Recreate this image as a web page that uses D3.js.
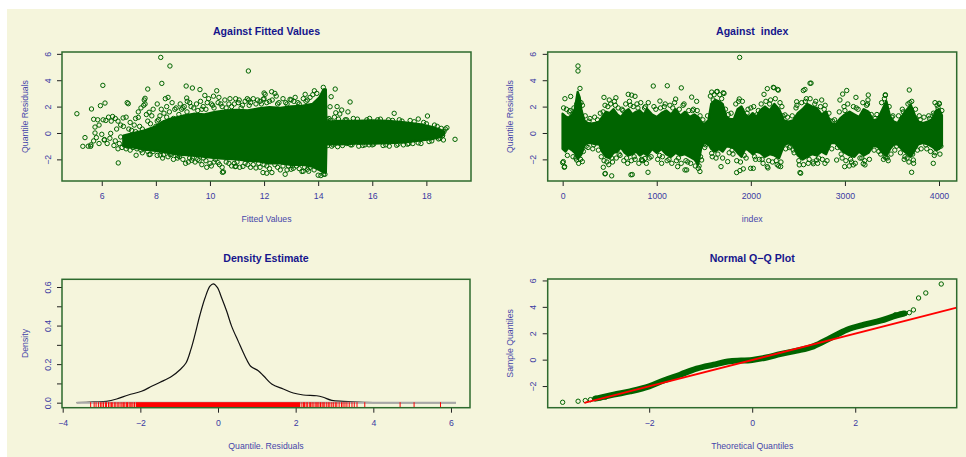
<!DOCTYPE html>
<html>
<head>
<meta charset="utf-8">
<script src="https://cdn.jsdelivr.net/npm/d3@7"></script>
<style>
body { margin: 0; background: #fff; }
svg { display: block; font-family: "Liberation Sans", Arial, sans-serif; }
text { white-space: pre; }
</style>
</head>
<body>
<svg id="chart" width="966" height="457"></svg>
<script>
// -- data -- //
// dense core of "against fitted": [fitted, low, high]
const fittedCore = [
  [6.8,-1.0,-0.2],[7.2,-1.1,0.0],[7.6,-1.25,0.2],[8.0,-1.35,0.5],[8.3,-1.45,0.9],[8.6,-1.55,1.1],
  [9.0,-1.65,1.3],[9.4,-1.7,1.45],[9.8,-1.8,1.4],[10.2,-1.9,1.6],[10.6,-1.95,1.7],[11.0,-2.0,1.75],
  [11.4,-2.1,1.7],[11.8,-2.15,1.85],[12.2,-2.3,1.95],[12.6,-2.3,1.9],[13.0,-2.4,2.0],[13.4,-2.4,2.05],
  [13.8,-2.55,2.2],[14.05,-2.8,2.7],[14.2,-3.0,3.3],[14.28,-3.0,3.3],[14.3,-0.85,0.85],[14.8,-0.85,0.9],
  [15.4,-0.8,0.9],[16.0,-0.8,0.95],[16.6,-0.75,0.9],[17.2,-0.7,0.8],[17.8,-0.55,0.65],
  [18.2,-0.45,0.45],[18.5,-0.3,0.25],[18.65,-0.12,0.08]
];
// scattered residuals around the core: [fitted, residual]
const fittedPoints = [
  [5.08,1.46],[8.18,5.73],[8.52,5.08],[11.42,4.70],[6.04,3.61],[6.12,2.27],[5.95,2.07],[5.62,1.82],
  [5.70,1.04],[5.75,0.45],[5.38,-0.35],[5.30,-1.01],[5.59,-1.01],[6.61,-2.27],[7.27,-1.69],[6.94,2.30],
  [6.98,2.22],[8.22,3.76],[7.70,3.33],[9.12,3.56],[9.35,3.41],[9.63,3.29],[10.50,-2.95],[10.96,-2.53],
  [11.22,-2.53],[11.96,-3.0],[7.60,2.63],[7.57,2.50],[7.35,1.18],[7.75,1.57],[6.79,1.14],[6.33,-0.03],
  [6.09,-0.53],[7.23,-0.86],[7.79,-1.62],[8.59,-1.6],[8.28,-1.65],[8.87,-1.79],[9.14,2.65],[9.16,2.4],
  [10.33,2.7],[10.74,2.6],[11.08,2.5],[11.76,2.5],[12.0,3.03],[12.04,2.93],[9.88,-2.6],[11.7,-2.65],
  [14.19,3.46],[14.63,3.33],[14.48,2.75],[14.44,1.99],[15.18,2.35],[13.86,3.2],[13.52,2.93],[12.96,2.55],
  [12.28,3.13],[12.4,3.0],[16.81,1.49],[18.04,1.29],[17.70,1.06],[18.76,0.4],[19.06,-0.48],[18.63,-0.53],
  [14.87,1.74],[14.8,1.44],[14.65,1.53],[14.72,-1.04],[15.06,-0.8],[15.73,-0.9],[15.88,-0.9],[16.63,-1.0],
  [16.9,-0.93],[17.15,-0.9],[17.5,-0.8],[14.1,-3.23],[14.25,-3.13],[12.78,-3.13],[12.1,-3.05],[13.45,-2.9],
  [13.6,-2.75],[14.0,-2.63],[13.0,-2.75],[10.25,3.2],[9.81,2.85],[10.13,2.79],[11.38,2.6],[11.43,2.5],
  [11.97,2.56],[12.29,-3.0],[13.08,-2.68],[13.4,-2.92],[14.0,-3.2],[14.2,-3.13],[10.46,-2.98],[10.93,-2.55],
  [7.75,-1.64],[8.16,-1.67],[8.53,-1.64],[8.9,-1.6],[9.33,-2.07],[9.36,-1.9],[9.76,-1.9],[10.0,-2.3],
  [10.3,-2.25],[6.0,-0.1],[6.1,-0.5],[6.2,-0.8],[6.3,-0.4],[6.35,0.9],[6.5,-0.6],[6.6,-1.2],[6.7,-0.3],
  [6.8,0.5],[6.85,-0.9],[6.9,1.2],[7.0,-0.7],[7.1,0.2],[7.15,-1.1],[7.2,0.6],[7.3,-0.5],[7.35,1.6],
  [7.4,-0.9],[7.5,0.3],[7.55,2.1],[7.6,-1.2],[7.7,0.9],[7.8,-0.4],[7.85,1.3],[7.9,-1.4],[8.0,0.5],
  [5.6,-0.9],[5.7,-0.6],[5.75,0.0],[5.8,-0.35],[5.9,0.6],[5.5,-1.0],[5.9,-0.8],[5.85,1.0],[6.05,1.0],
  [6.15,0.95],[6.25,1.2],[6.4,1.25],[6.55,0.3],[6.45,-0.95],[6.65,-0.8],[6.75,-1.1],[6.95,-1.0],
  [7.05,-0.3],[7.25,0.1],[7.45,-1.3],[7.65,-0.9],[7.95,-0.8],[8.1,1.0],[8.3,1.5],[8.4,2.0],[8.6,2.3],
  [8.7,1.8],[8.45,2.7],[8.35,2.6],[8.9,2.2],[9.0,1.9],[9.3,2.0],[9.5,2.2],[9.7,1.8],[9.9,2.3],[10.1,2.1],
  [10.4,2.2],[10.6,1.9],[10.9,2.2],[11.2,2.1],[11.5,2.3],[11.9,2.2],[12.2,2.4],[12.5,2.2],[12.8,2.3],
  [13.1,2.4],[13.3,2.2],[13.6,2.5],[8.2,-1.4],[8.8,-1.9],[9.2,-2.2],[9.6,-2.1],[10.2,-2.0],[10.7,-2.3],
  [11.0,-2.2],[11.4,-2.4],[11.8,-2.3],[12.1,-2.5],[12.5,-2.6],[12.9,-2.5],[13.2,-2.5],[13.7,-2.6],
  [14.4,1.1],[14.5,-1.0],[15.0,1.0],[15.3,1.1],[15.5,-1.0],[15.9,1.1],[16.2,1.0],[16.4,-0.95],[16.6,1.0],
  [17.0,1.0],[17.3,-0.85],[17.4,0.95],[17.8,-0.8],[17.9,0.8],[18.2,-0.6],[18.3,0.6],[18.5,-0.4],
  [18.55,0.35],[18.7,0.3],[18.6,-0.2],[15.2,-0.9],[16.0,-0.9],[14.35,-0.95],[14.6,1.2],[14.7,2.0],[15.1,1.6],
  [8.05,0.9],[8.15,1.3],[8.25,0.7],[8.4,1.2],[8.5,1.6],[8.65,1.1],[8.75,1.9],[8.85,1.4],[8.95,1.8],
  [9.05,2.0],[9.15,1.6],[9.25,2.3],[9.4,1.9],[9.55,1.7],[9.65,2.4],[9.75,2.0],[9.85,1.8],[9.95,2.6],
  [10.05,2.2],[10.15,1.9],[10.3,2.3],[10.45,2.0],[10.55,2.5],[10.7,2.2],[10.8,2.0],[10.95,2.6],[11.05,2.3],
  [11.15,1.9],[11.3,2.4],[11.45,2.1],[11.6,2.6],[11.7,2.2],[11.85,2.4],[12.0,2.6],[12.1,2.3],[12.3,2.5],
  [12.45,2.8],[12.55,2.3],[12.7,2.6],[12.85,2.2],[13.0,2.5],[13.15,2.7],[13.25,2.3],[13.45,2.6],[13.55,2.4],
  [13.7,2.7],[13.8,2.9],[13.95,3.0],[6.9,-1.2],[7.05,-1.3],[7.3,-1.2],[7.5,-1.5],[7.7,-1.4],[8.05,-1.7],
  [8.25,-1.9],[8.45,-1.8],[8.65,-2.0],[8.8,-1.7],[9.0,-2.0],[9.1,-2.3],[9.25,-1.9],[9.45,-2.2],[9.55,-2.0],
  [9.7,-2.4],[9.85,-2.1],[10.05,-2.5],[10.15,-2.2],[10.35,-2.4],[10.45,-2.6],[10.6,-2.2],[10.8,-2.5],
  [10.9,-2.3],[11.1,-2.6],[11.3,-2.3],[11.5,-2.6],[11.6,-2.4],[11.85,-2.6],[12.0,-2.4],[12.2,-2.7],
  [12.4,-2.4],[12.6,-2.8],[12.7,-2.5],[12.85,-2.8],[13.05,-2.5],[13.3,-2.7],[13.5,-2.6],[13.65,-2.9],
  [13.85,-2.8],[14.35,1.0],[14.45,0.95],[14.55,-0.9],[14.75,1.05],[14.9,-0.95],[15.05,1.0],[15.25,-0.9],
  [15.45,1.05],[15.65,-0.95],[15.8,1.0],[16.05,-0.85],[16.3,1.05],[16.5,-0.9],[16.75,0.95],[16.95,-0.85],
  [17.1,0.9],[17.35,-0.8],[17.55,0.85],[17.7,-0.75],[18.0,0.7],[18.1,-0.65],[18.4,0.5],[18.45,-0.45],
  [18.65,0.1],[7.05,0.8],[7.25,1.1],[7.4,0.5],[7.45,1.9],[7.65,1.4],[7.8,0.7],[7.9,1.8],[8.05,2.2],
  [8.2,1.8],[7.6,2.2],[7.0,0.3],[6.7,0.6],[6.6,0.9],[6.5,1.1]
];

// dense core of "against index": [index, low, high]
const indexCore = [
  [0,-1.2,1.45],[30,-1.4,1.25],[60,-1.1,1.15],[100,-1.3,1.4],[130,-1.5,1.8],[160,-1.95,3.1],[180,-1.8,2.7],
  [200,-1.6,1.7],[230,-0.95,0.95],[260,-0.75,0.75],[300,-0.75,0.7],[350,-0.85,0.75],[390,-0.85,0.85],
  [420,-1.4,1.2],[460,-1.8,1.6],[500,-1.9,1.5],[540,-1.5,1.8],[580,-1.4,1.4],[620,-1.1,1.2],[660,-1.5,1.6],
  [700,-1.7,1.8],[740,-1.6,1.4],[780,-1.4,1.6],[820,-1.7,1.7],[860,-1.5,1.4],[900,-1.7,1.8],[950,-1.2,1.4],
  [1000,-1.5,1.2],[1050,-1.2,1.5],[1100,-1.6,1.7],[1150,-1.8,1.4],[1200,-1.5,1.8],[1250,-1.7,1.3],
  [1300,-1.6,1.6],[1350,-1.8,1.2],[1400,-2.0,1.4],[1440,-2.4,1.2],[1470,-1.2,0.85],[1500,-0.75,0.65],
  [1550,-0.85,0.95],[1580,-1.2,2.2],[1620,-1.4,2.5],[1660,-1.2,2.4],[1700,-1.4,2.2],[1740,-1.0,1.2],
  [1780,-1.05,1.05],[1820,-1.15,1.05],[1860,-1.5,1.8],[1900,-1.8,2.0],[1940,-1.2,1.4],[1980,-1.3,1.2],
  [2020,-1.6,1.5],[2060,-1.4,1.2],[2100,-1.5,1.7],[2150,-1.8,2.0],[2200,-1.6,1.7],[2250,-1.7,2.2],
  [2300,-1.9,1.8],[2350,-0.95,0.95],[2400,-0.75,0.85],[2450,-0.95,0.95],[2500,-1.7,1.5],[2550,-2.0,1.8],
  [2600,-1.8,2.2],[2650,-1.6,2.0],[2700,-1.7,1.9],[2750,-1.4,1.4],[2800,-1.6,1.6],[2850,-0.75,0.75],
  [2900,-0.75,0.65],[2950,-1.2,1.1],[3000,-1.5,1.4],[3050,-1.7,1.6],[3100,-1.8,1.4],[3150,-1.4,1.2],
  [3200,-1.7,1.8],[3250,-1.5,1.6],[3300,-0.95,0.95],[3350,-1.05,1.05],[3400,-1.5,1.8],[3440,-1.7,2.4],
  [3480,-1.2,1.2],[3520,-0.85,0.85],[3560,-0.85,0.75],[3600,-1.2,1.2],[3650,-1.5,1.7],[3700,-1.8,2.1],
  [3740,-1.3,1.4],[3780,-0.85,0.85],[3830,-0.75,0.75],[3880,-0.85,0.85],[3930,-1.05,1.05],[3970,-1.3,1.7],
  [4000,-1.2,1.8],[4030,-0.95,1.35]
];
// scattered residuals: [index, residual]
const indexPoints = [
  [163,5.08],[163,4.7],[1881,5.73],[24,2.6],[85,2.77],[963,3.56],[1112,3.58],[1261,3.42],[439,2.7],
  [697,2.93],[769,2.78],[1584,3.1],[1643,3.15],[1707,3.05],[2175,3.36],[2239,3.46],[2285,3.30],[2558,3.22],
  [2640,3.78],[3019,3.22],[2947,2.5],[3684,3.26],[3245,2.5],[3429,2.85],[0,-2.25],[21,-2.55],[453,-3.07],
  [521,-3.25],[740,-3.15],[907,-2.98],[1459,-2.92],[1849,-3.0],[1884,-2.85],[2522,-3.0],[3709,-2.98],
  [3939,-2.3],[2997,-2.55],[3046,-2.5],[1318,-2.8],[1998,-2.68],[2182,-2.65],[2296,-2.5],[2664,-2.33],
  [3195,-2.33],[3426,-1.83],[3986,-1.1],[4003,2.2],[3957,2.3],[184,3.38],[209,-2.17],[149,-2.05],[7,-2.17],
  [17,-2.6],[495,2.5],[566,2.67],[733,2.87],[1034,2.42],[1201,2.57],[1371,2.72],[1424,2.4],[450,-3.1],
  [726,-3.17],[432,-2.6],[843,-2.05],[875,-1.93],[1052,-2.3],[1222,-2.55],[1300,-2.8],[1441,-2.68],
  [1477,-2.05],[1637,3.12],[1715,3.0],[1683,-2.55],[1877,2.58],[1903,1.74],[1920,-2.72],[1754,-2.17],
  [1584,-1.54],[2140,2.93],[2246,3.43],[2292,3.25],[2575,3.3],[2629,3.77],[2976,2.95],[3117,2.7],
  [3248,2.88],[4002,2.25],[3950,1.37],[2026,-2.68],[2175,-2.55],[2317,-2.55],[2530,-3.05],[2515,-2.42],
  [2788,-2.3],[3089,-2.42],[3213,-2.42],[3436,-1.85],[3638,-1.8],[3727,-2.05],[2062,1.37],[2363,1.37],
  [2487,2.37],[2753,2.5],[2841,0.92],[1991,-1.29],[2451,-1.29],[2700,-2.05],[2912,-2.05],
  [40,1.8],[70,1.6],[120,1.9],[140,-1.9],[190,-2.0],[210,2.1],[250,-1.0],[280,0.9],[330,-0.9],[370,1.0],
  [410,-1.8],[430,1.6],[470,-2.2],[480,2.0],[520,-1.9],[560,2.1],[600,-1.6],[640,1.7],[680,-1.9],[720,2.1],
  [760,-1.8],[800,1.9],[840,-2.0],[880,2.0],[920,-1.9],[990,1.8],[1030,-1.7],[1080,2.0],[1130,-2.0],
  [1170,1.9],[1230,-1.9],[1280,2.1],[1330,-2.2],[1380,1.7],[1450,-2.5],[1460,1.3],[1520,-0.9],[1600,2.5],
  [1650,-1.6],[1690,2.6],[1760,1.4],[1800,-1.3],[1840,2.2],[1890,-2.2],[1960,1.5],[2040,-1.8],[2080,1.7],
  [2120,-2.0],[2200,2.2],[2270,-2.1],[2330,2.0],[2420,-1.0],[2480,1.9],[2580,2.4],[2620,-2.0],[2680,2.2],
  [2720,-1.9],[2780,1.8],[2870,0.9],[2960,-1.6],[3000,1.7],[3060,-2.0],[3120,1.9],[3180,-1.9],[3230,2.1],
  [3320,1.1],[3380,-1.6],[3420,2.6],[3450,-1.9],[3500,1.2],[3550,-1.0],[3620,1.6],[3660,-1.9],[3690,2.3],
  [3720,-1.6],[3800,1.0],[3860,-0.9],[3900,1.1],[3960,-1.5],[3990,1.9],[4020,-1.0],
  [10,1.9],[50,-1.7],[80,1.7],[110,-1.8],[150,2.2],[170,-2.3],[195,2.3],[220,-1.4],[240,1.3],[270,-1.1],
  [290,1.1],[320,-1.2],[340,1.2],[380,-1.3],[400,1.5],[440,-2.1],[450,2.1],[490,-2.4],[510,2.2],[530,-2.2],
  [550,2.4],[570,-1.9],[590,1.9],[610,-1.7],[630,1.8],[650,-2.1],[670,2.2],[690,-2.3],[710,2.4],[730,-2.1],
  [750,2.0],[770,-2.0],[790,2.2],[810,-2.3],[830,2.3],[850,-2.1],[870,1.9],[890,-2.3],[910,2.3],[940,-1.8],
  [970,2.0],[1010,-2.0],[1040,1.9],[1060,-1.8],[1090,2.2],[1110,-2.1],[1140,2.1],[1160,-2.3],[1190,2.3],
  [1210,-2.1],[1240,1.8],[1260,-2.3],[1290,2.2],[1310,-2.1],[1340,1.7],[1360,-2.3],[1390,1.8],[1410,-2.5],
  [1430,1.7],[1465,-1.8],[1490,1.0],[1510,-1.1],[1540,1.3],[1570,2.8],[1590,-1.8],[1610,2.9],[1630,-1.9],
  [1670,2.9],[1700,-1.9],[1730,1.8],[1770,-1.5],[1790,1.5],[1810,-1.6],[1850,-2.1],[1870,2.4],[1910,2.4],
  [1930,-1.7],[1950,-1.9],[1970,1.8],[2000,1.9],[2030,2.0],[2050,-2.0],[2090,-2.0],[2110,2.2],[2130,-2.3],
  [2160,2.4],[2190,-2.1],[2210,2.5],[2230,-2.2],[2260,2.6],[2280,-2.4],[2310,2.3],[2320,-2.2],[2340,1.3],
  [2370,-1.2],[2390,1.2],[2410,-1.1],[2440,1.3],[2460,-1.5],[2490,2.1],[2510,-2.1],[2540,2.3],[2560,-2.4],
  [2590,2.6],[2610,-2.3],[2630,2.6],[2660,-2.2],[2690,2.4],[2710,-2.3],[2740,2.0],[2760,-2.0],[2790,2.1],
  [2810,-2.1],[2830,1.5],[2860,-1.2],[2890,1.0],[2920,-1.1],[2940,1.6],[2970,-1.9],[2990,2.0],[3010,-2.1],
  [3030,2.2],[3070,-2.2],[3090,2.0],[3110,-2.3],[3140,1.8],[3160,-1.9],[3190,2.3],[3210,-2.1],[3240,2.2],
  [3260,-2.0],[3280,1.4],[3310,-1.3],[3340,1.4],[3360,-1.4],[3390,2.3],[3410,-2.0],[3430,2.9],[3460,-2.1],
  [3470,2.0],[3490,-1.6],[3510,1.3],[3530,-1.3],[3570,1.3],[3590,-1.5],[3610,1.8],[3630,-2.0],[3670,2.2],
  [3680,-2.2],[3710,2.4],[3730,-2.3],[3750,1.8],[3770,-1.3],[3790,1.3],[3810,-1.2],[3840,1.2],[3870,-1.2],
  [3890,1.3],[3910,-1.4],[3940,1.5],[3950,-1.7],[3980,2.1],[4010,-1.6],[4030,1.7]
];

// density estimate of the residuals: [residual, density]
const densityCurve = [
  [-3.64,0.0],[-3.21,0.004],[-2.87,0.007],[-2.61,0.019],[-2.31,0.040],[-1.97,0.059],[-1.71,0.085],
  [-1.49,0.106],[-1.19,0.137],[-0.98,0.171],[-0.825,0.206],[-0.70,0.275],[-0.593,0.353],[-0.464,0.456],
  [-0.335,0.543],[-0.207,0.604],[-0.121,0.616],[-0.018,0.598],[0.095,0.543],[0.224,0.474],[0.352,0.396],
  [0.522,0.318],[0.695,0.241],[0.841,0.189],[1.037,0.166],[1.184,0.137],[1.382,0.097],[1.681,0.071],
  [1.939,0.050],[2.197,0.040],[2.54,0.036],[2.71,0.028],[2.93,0.012],[3.23,0.007],[3.48,0.004],
  [3.74,0.002],[4.51,0.0005],[6.13,0.0]
];
const densityRange = [-3.64, 6.13];
// rug: solid block of residuals plus the sparse ones
const rugCore = [-2.12, 2.12];
const rugValues = [
  -3.28,-3.19,-3.14,-3.08,-3.03,-2.99,-2.95,-2.9,-2.87,-2.82,-2.78,-2.74,-2.71,-2.66,-2.63,-2.58,-2.55,
  -2.5,-2.47,-2.43,-2.4,-2.36,-2.33,-2.29,-2.26,-2.22,-2.19,-2.15,
  2.16,2.2,2.23,2.27,2.3,2.35,2.38,2.42,2.45,2.5,2.53,2.57,2.6,2.64,2.68,2.71,2.75,2.8,2.84,2.88,2.93,
  2.97,3.02,3.06,3.12,3.18,3.22,3.27,3.32,3.38,3.45,3.51,3.58,3.78,4.69,5.05,5.73
];

// normal Q-Q: dense run of [theoretical, sample] and the separate tail points
const qqBand = [
  [-3.05,-2.95],[-2.95,-2.88],[-2.69,-2.65],[-2.37,-2.40],[-2.0,-2.02],[-1.72,-1.58],[-1.40,-1.14],
  [-1.08,-0.68],[-0.75,-0.38],[-0.43,-0.12],[0,-0.02],[0.3,0.18],[0.54,0.42],[0.87,0.68],[1.19,1.01],
  [1.52,1.64],[1.84,2.27],[2.17,2.65],[2.49,2.95],[2.81,3.36],[2.95,3.50]
];
const qqTails = [
  [-3.68,-3.23],[-3.38,-3.15],[-3.24,-3.10],[-3.14,-3.03],[-3.05,-2.95],[-2.95,-2.90],[-2.85,-2.84],
  [2.78,3.40],[2.88,3.45],[2.97,3.50],[3.05,3.56],[3.13,3.77],[3.23,4.67],[3.37,5.05],[3.67,5.73]
];
const qqLine = [[-3.26,-3.28],[3.97,3.94]];

// tick values
const residTicks = [-2,0,2,4,6];
const fittedTicks = [6,8,10,12,14,16,18];
const indexTicks = [0,1000,2000,3000,4000];
const densXTicks = [-4,-2,0,2,4,6];
const densYTicks = [0,0.1,0.2,0.3,0.4,0.5,0.6];
const densYLabels = [0,0.2,0.4,0.6];
const qqXTicks = [-2,0,2];

// -- drawing -- //
const svg = d3.select('#chart');
const green = '#006400';
svg.append('rect').attr('x', 7).attr('y', 9).attr('width', 959).attr('height', 448).attr('fill', '#f5f5dc');

let makePanel = (p) => {
    const x = d3.scaleLinear().domain(p.xDomain).range([p.left, p.right]);
    const y = d3.scaleLinear().domain(p.yDomain).range([p.bottom, p.top]);
    const g = svg.append('g');

    svg.append('clipPath').attr('id', 'clip-' + p.name)
        .append('rect')
        .attr('x', p.left).attr('y', p.top)
        .attr('width', p.right - p.left).attr('height', p.bottom - p.top);
    const layer = g.append('g').attr('clip-path', `url(#clip-${p.name})`);

    // x axis
    const xa = g.append('g')
        .attr('transform', `translate(0,${p.bottom})`)
        .call(d3.axisBottom(x).tickValues(p.xTicks).tickSize(5).tickSizeOuter(0).tickPadding(7)
            .tickFormat(p.xFormat || d3.format('')));
    // y axis, labels turned like R does
    const ya = g.append('g')
        .attr('transform', `translate(${p.left},0)`)
        .call(d3.axisLeft(y).tickValues(p.yTicks).tickSize(5).tickSizeOuter(0)
            .tickFormat(p.yFormat || d3.format('')));
    ya.selectAll('text')
        .attr('x', 0).attr('dy', '0.35em')
        .attr('text-anchor', 'middle')
        .attr('transform', 'translate(-14.3,0) rotate(-90)');
    [xa, ya].forEach(a => {
        a.select('.domain').remove();
        a.selectAll('line').attr('stroke', '#222');
        a.selectAll('text').attr('fill', '#3a3aa2').style('font-size', '8.7px')
            .style('font-family', '"Liberation Sans", Arial, sans-serif');
    });

    // titles
    const cx = (p.left + p.right) / 2;
    g.append('text').attr('x', cx).attr('y', p.top - 17.5)
        .attr('text-anchor', 'middle').attr('fill', '#16168c')
        .style('font-size', '10.6px').style('font-weight', 'bold')
        .text(p.title);
    g.append('text').attr('x', cx).attr('y', p.bottom + 41)
        .attr('text-anchor', 'middle').attr('fill', '#4646aa')
        .style('font-size', '8.7px')
        .text(p.xLabel);
    g.append('text')
        .attr('transform', `translate(${p.left - 37.5},${(p.top + p.bottom) / 2}) rotate(-90)`)
        .attr('dy', '0.35em')
        .attr('text-anchor', 'middle').attr('fill', '#4646aa')
        .style('font-size', '8.7px')
        .text(p.yLabel);

    return { x, y, g, layer, p };
};

let drawBox = (panel) => {
    const p = panel.p;
    panel.g.append('rect')
        .attr('x', p.left).attr('y', p.top)
        .attr('width', p.right - p.left).attr('height', p.bottom - p.top)
        .attr('fill', 'none').attr('stroke', '#2d6a2d').attr('stroke-width', 1.5);
};

let drawPoints = (layer, data, x, y) => {
    layer.selectAll('.point')
        .data(data)
        .enter().append('circle')
        .attr('class', 'point')
        .attr('cx', d => x(d[0]))
        .attr('cy', d => y(d[1]))
        .attr('r', 2.2)
        .style('fill', 'none')
        .style('stroke', green)
        .style('stroke-width', 1);
};

let drawCore = (layer, data, x, y) => {
    layer.append('path')
        .datum(data)
        .attr('d', d3.area().x(d => x(d[0])).y0(d => y(d[1])).y1(d => y(d[2])))
        .attr('fill', green)
        .attr('stroke', green)
        .attr('stroke-width', 2.5)
        .attr('stroke-linejoin', 'round');
};

// -- against fitted values -- //
const pA = makePanel({
    name: 'a', left: 62, right: 471, top: 52, bottom: 181,
    xDomain: [4.53, 19.65], yDomain: [-3.64, 6.14],
    xTicks: fittedTicks, yTicks: residTicks,
    title: 'Against Fitted Values', xLabel: 'Fitted Values', yLabel: 'Quantile Residuals'
});
drawCore(pA.layer, fittedCore, pA.x, pA.y);
drawPoints(pA.layer, fittedPoints, pA.x, pA.y);
drawBox(pA);

// -- against index -- //
const pB = makePanel({
    name: 'b', left: 547.7, right: 956.7, top: 52, bottom: 181,
    xDomain: [-159, 4188], yDomain: [-3.64, 6.14],
    xTicks: indexTicks, yTicks: residTicks,
    title: 'Against  index', xLabel: 'index', yLabel: 'Quantile Residuals'
});
drawCore(pB.layer, indexCore, pB.x, pB.y);
drawPoints(pB.layer, indexPoints, pB.x, pB.y);
drawBox(pB);

// -- density estimate -- //
const pC = makePanel({
    name: 'c', left: 62, right: 470, top: 279.3, bottom: 407.7,
    xDomain: [-4.018, 6.49], yDomain: [-0.026, 0.64],
    xTicks: densXTicks, yTicks: densYTicks,
    yFormat: d => densYLabels.some(v => Math.abs(v - d) < 1e-9) ? d3.format('.1f')(d) : '',
    title: 'Density Estimate', xLabel: 'Quantile. Residuals', yLabel: 'Density'
});
pC.layer.append('path')
    .datum(densityCurve)
    .attr('d', d3.line().x(d => pC.x(d[0])).y(d => pC.y(d[1])).curve(d3.curveCatmullRom))
    .attr('fill', 'none').attr('stroke', '#111').attr('stroke-width', 1.2);
pC.layer.append('line')
    .attr('x1', pC.x(densityRange[0])).attr('x2', pC.x(densityRange[1]))
    .attr('y1', pC.y(0)).attr('y2', pC.y(0))
    .attr('stroke', '#a8a8a8').attr('stroke-width', 2);
const rugTop = pC.p.bottom - 5.5;
pC.layer.append('rect')
    .attr('x', pC.x(rugCore[0])).attr('y', rugTop)
    .attr('width', pC.x(rugCore[1]) - pC.x(rugCore[0])).attr('height', pC.p.bottom - rugTop)
    .attr('fill', 'red');
pC.layer.selectAll('.rug')
    .data(rugValues)
    .enter().append('line')
    .attr('class', 'rug')
    .attr('x1', d => pC.x(d)).attr('x2', d => pC.x(d))
    .attr('y1', rugTop).attr('y2', pC.p.bottom)
    .attr('stroke', 'red').attr('stroke-width', 1);
drawBox(pC);

// -- normal Q-Q plot -- //
const pD = makePanel({
    name: 'd', left: 547.7, right: 956.7, top: 279, bottom: 407.7,
    xDomain: [-3.97, 3.97], yDomain: [-3.64, 6.11],
    xTicks: qqXTicks, yTicks: residTicks,
    title: 'Normal Q\u2212Q Plot', xLabel: 'Theoretical Quantiles', yLabel: 'Sample Quantiles'
});
pD.layer.append('path')
    .datum(qqBand)
    .attr('d', d3.line().x(d => pD.x(d[0])).y(d => pD.y(d[1])).curve(d3.curveMonotoneX))
    .attr('fill', 'none').attr('stroke', green).attr('stroke-width', 6)
    .attr('stroke-linecap', 'round');
drawPoints(pD.layer, qqTails, pD.x, pD.y);
pD.layer.append('path')
    .datum(qqLine)
    .attr('d', d3.line().x(d => pD.x(d[0])).y(d => pD.y(d[1])))
    .attr('stroke', 'red').attr('stroke-width', 1.8);
drawBox(pD);
</script>
</body>
</html>
